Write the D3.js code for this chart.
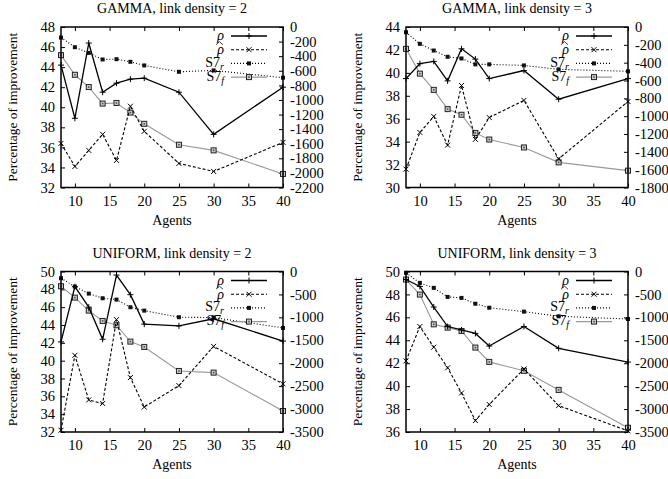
<!DOCTYPE html>
<html>
<head>
<meta charset="utf-8">
<script src="https://cdn.jsdelivr.net/npm/d3@7"></script>
<style>
body { margin: 0; background: #fff; }
text { font-family: "Liberation Serif", "DejaVu Serif", serif; fill: #000; }
</style>
</head>
<body>
<div id="chart"></div>
<script>
// x values shared by all four plots
var agents = [8, 10, 12, 14, 16, 18, 20, 25, 30, 40];
var xTicks = [10, 15, 20, 25, 30, 35, 40];

var titles = ["GAMMA, link density = 2", "GAMMA, link density = 3",
              "UNIFORM, link density = 2", "UNIFORM, link density = 3"];

// GAMMA, link density = 2
var gamma2Rho    = [44.2, 38.9, 46.4, 41.5, 42.4, 42.8, 42.9, 41.5, 37.3, 42.0];
var gamma2RhoHat = [36.4, 34.1, 35.7, 37.3, 34.7, 40.1, 37.6, 34.4, 33.6, 36.5];
var gamma2S7r    = [-145, -277, -355, -445, -441, -477, -527, -614, -595, -695];
var gamma2S7f    = [-386, -655, -823, -1050, -1041, -1173, -1327, -1614, -1691, -2014];

// GAMMA, link density = 3
var gamma3Rho    = [39.5, 40.8, 41.0, 39.3, 42.1, 41.2, 39.5, 40.2, 37.7, 39.5];
var gamma3RhoHat = [31.6, 34.8, 36.2, 33.7, 38.9, 34.2, 36.1, 37.6, 32.5, 37.5];
var gamma3S7r    = [-59, -189, -264, -334, -353, -419, -419, -431, -475, -497];
var gamma3S7f    = [-245, -523, -705, -921, -984, -1188, -1262, -1351, -1518, -1611];

// UNIFORM, link density = 2
var uniform2Rho    = [42.1, 48.3, 46.0, 42.4, 49.6, 47.4, 44.1, 43.9, 44.7, 42.2];
var uniform2RhoHat = [32.2, 40.6, 35.6, 35.2, 44.6, 38.1, 34.8, 37.2, 41.6, 37.4];
var uniform2S7r    = [-146, -329, -482, -583, -613, -779, -853, -997, -1004, -1230];
var uniform2S7f    = [-321, -569, -853, -1078, -1172, -1529, -1645, -2169, -2205, -3042];

// UNIFORM, link density = 3
var uniform3Rho    = [49.3, 48.7, 46.9, 45.2, 44.9, 44.6, 43.5, 45.2, 43.3, 42.1];
var uniform3RhoHat = [42.2, 45.2, 43.4, 41.6, 39.4, 37.0, 38.4, 41.5, 38.3, 36.1];
var uniform3S7r    = [-29, -248, -357, -554, -576, -703, -790, -875, -977, -1036];
var uniform3S7f    = [-175, -503, -1152, -1224, -1297, -1659, -1971, -2166, -2582, -3407];

// axis ranges (left: percentage, right: S7)
var leftDomains  = [[32, 48], [30, 44], [32, 50], [36, 50]];
var rightDomains = [[-2200, 0], [-1800, 0], [-3500, 0], [-3500, 0]];
var rightSteps   = [200, 200, 500, 500];

var seriesData = [
  [gamma2Rho, gamma2RhoHat, gamma2S7r, gamma2S7f],
  [gamma3Rho, gamma3RhoHat, gamma3S7r, gamma3S7f],
  [uniform2Rho, uniform2RhoHat, uniform2S7r, uniform2S7f],
  [uniform3Rho, uniform3RhoHat, uniform3S7r, uniform3S7f]
];

var W = 668, H = 479;
var svg = d3.select("#chart").append("svg")
    .attr("width", W)
    .attr("height", H);

// frame boxes of the 4 plots
var frames = [
  {left: 61, right: 283, top: 27, bottom: 187.5},
  {left: 406, right: 628, top: 27, bottom: 187.5},
  {left: 61, right: 283, top: 271.5, bottom: 432},
  {left: 406, right: 628, top: 271.5, bottom: 432}
];

var styles = [
  {stroke: "#000", width: 1.3, dash: null, mark: "plus", axis: "left"},
  {stroke: "#000", width: 1.1, dash: "3,2", mark: "cross", axis: "left"},
  {stroke: "#000", width: 1.1, dash: "1,2", mark: "filled", axis: "right"},
  {stroke: "#999", width: 1.1, dash: null, mark: "open", axis: "right"}
];

function drawMarker(g, type, cx, cy) {
  if (type == "plus") {
    g.append("path").attr("d", "M" + (cx-3) + "," + cy + "H" + (cx+3) + "M" + cx + "," + (cy-3) + "V" + (cy+3))
      .attr("stroke", "#000").attr("stroke-width", 1);
  } else if (type == "cross") {
    g.append("path").attr("d", "M" + (cx-2.5) + "," + (cy-2.5) + "L" + (cx+2.5) + "," + (cy+2.5) +
        "M" + (cx-2.5) + "," + (cy+2.5) + "L" + (cx+2.5) + "," + (cy-2.5))
      .attr("stroke", "#000").attr("stroke-width", 1);
  } else if (type == "filled") {
    g.append("rect").attr("x", cx-2).attr("y", cy-2).attr("width", 4).attr("height", 4)
      .attr("fill", "#111");
  } else {
    g.append("rect").attr("x", cx-2.5).attr("y", cy-2.5).attr("width", 5).attr("height", 5)
      .attr("fill", "#ccc").attr("stroke", "#222").attr("stroke-width", 1);
    g.append("rect").attr("x", cx-0.75).attr("y", cy-0.75).attr("width", 1.5).attr("height", 1.5)
      .attr("fill", "#444");
  }
}

function drawPanel(p) {
  var f = frames[p];
  var g = svg.append("g");

  var x = d3.scaleLinear().domain([8, 40]).range([f.left, f.right]);
  var yL = d3.scaleLinear().domain(leftDomains[p]).range([f.bottom, f.top]);
  var yR = d3.scaleLinear().domain(rightDomains[p]).range([f.bottom, f.top]);

  var leftTicks = d3.range(leftDomains[p][0], leftDomains[p][1] + 0.1, 2);
  var rightTicks = d3.range(rightDomains[p][0], 0.1, rightSteps[p]);

  // axes, ticks pointing inward
  g.append("g").attr("transform", "translate(0," + f.bottom + ")")
    .call(d3.axisBottom(x).tickValues(xTicks).tickSize(-4).tickPadding(8).tickFormat(function(d){ return String(d); }));
  g.append("g").attr("transform", "translate(0," + f.top + ")")
    .call(d3.axisTop(x).tickValues(xTicks).tickSize(-4).tickFormat(""));
  g.append("g").attr("transform", "translate(" + f.left + ",0)")
    .call(d3.axisLeft(yL).tickValues(leftTicks).tickSize(-4).tickPadding(6).tickFormat(function(d){ return String(d); }));
  g.append("g").attr("transform", "translate(" + f.right + ",0)")
    .call(d3.axisRight(yR).tickValues(rightTicks).tickSize(-4).tickPadding(7).tickFormat(function(d){ return String(d); }));

  g.selectAll(".domain").remove();
  g.selectAll(".tick line").attr("stroke", "#000").attr("stroke-width", 1);
  g.selectAll(".tick text").attr("font-size", 14.5).attr("font-family", "Liberation Serif").attr("fill", "#111");

  // data lines
  var data = seriesData[p];
  [3, 2, 1, 0].forEach(function(s){
    var st = styles[s];
    var yS = st.axis == "left" ? yL : yR;
    var vals = data[s];
    var line = d3.line()
      .x(function(d, i){ return x(agents[i]); })
      .y(function(d){ return yS(d); });
    g.append("path")
      .attr("d", line(vals))
      .attr("fill", "none")
      .attr("stroke", st.stroke)
      .attr("stroke-width", st.width)
      .attr("stroke-dasharray", st.dash);
    vals.forEach(function(v, i){
      drawMarker(g, st.mark, x(agents[i]), yS(v));
    });
  });

  // frame
  g.append("rect")
    .attr("x", f.left).attr("y", f.top)
    .attr("width", f.right - f.left).attr("height", f.bottom - f.top)
    .attr("fill", "none").attr("stroke", "#000").attr("stroke-width", 1.5);

  // legend
  var labels = ["rho", "rhohat", "S7r", "S7f"];
  labels.forEach(function(lab, i){
    var ly = f.top + 9 + 13.7 * i;
    var st = styles[i];
    var tx = f.right - 59;
    if (lab == "rho" || lab == "rhohat") {
      g.append("text")
        .attr("x", tx).attr("y", ly).attr("dy", "0.32em")
        .attr("text-anchor", "end").attr("font-size", 14).attr("font-style", "italic")
        .attr("fill", "#111")
        .text("ρ");
      if (lab == "rhohat") {
        // hat over rho
        g.append("path")
          .attr("d", "M" + (tx-8) + "," + (ly-5) + "L" + (tx-4.5) + "," + (ly-8) + "L" + (tx-1) + "," + (ly-5))
          .attr("fill", "none").attr("stroke", "#111").attr("stroke-width", 0.8);
      }
    } else {
      var t = g.append("text")
        .attr("x", tx).attr("y", ly - 1).attr("dy", "0.32em")
        .attr("text-anchor", "end").attr("font-size", 14).attr("fill", "#111");
      t.append("tspan").text("S7");
      t.append("tspan").attr("font-style", "italic").attr("font-size", 10).attr("dy", 3)
        .text(lab == "S7r" ? "r" : "f");
    }
    g.append("line")
      .attr("x1", f.right - 52).attr("x2", f.right - 16)
      .attr("y1", ly).attr("y2", ly)
      .attr("stroke", st.stroke).attr("stroke-width", st.width)
      .attr("stroke-dasharray", st.dash);
    drawMarker(g, st.mark, f.right - 34, ly);
  });

  // titles and axis labels
  var cx = (f.left + f.right) / 2;
  g.append("text")
    .attr("x", cx).attr("y", f.top - 14)
    .attr("text-anchor", "middle").attr("font-size", 14).attr("fill", "#111")
    .text(titles[p]);
  g.append("text")
    .attr("x", cx).attr("y", f.bottom + 37)
    .attr("text-anchor", "middle").attr("font-size", 14).attr("fill", "#111")
    .text("Agents");
  g.append("text")
    .attr("transform", "translate(" + (f.left - 44) + "," + ((f.top + f.bottom) / 2) + ") rotate(-90)")
    .attr("text-anchor", "middle").attr("font-size", 13.5).attr("fill", "#111")
    .text("Percentage of improvement");
}

for (var p = 0; p < 4; p++) {
  drawPanel(p);
}
</script>
</body>
</html>
